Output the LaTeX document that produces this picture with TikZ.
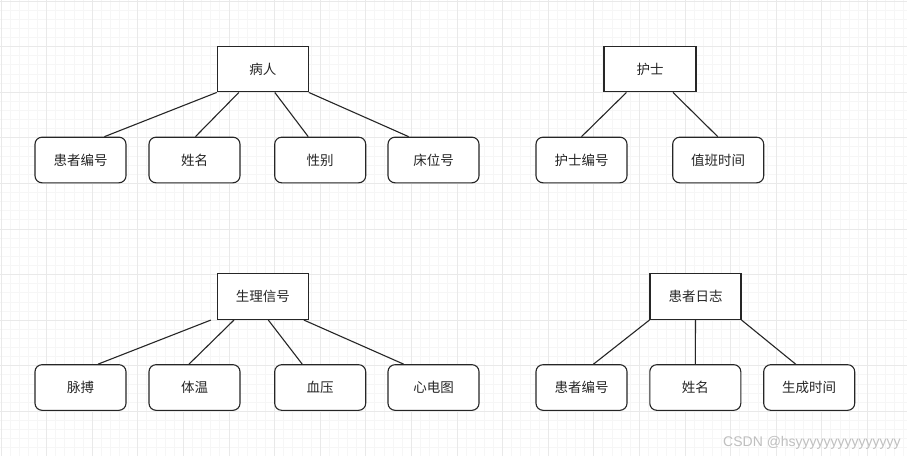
\documentclass[tikz,border=0pt]{standalone}
\usepackage{fontspec}
\setmainfont{Noto Sans CJK SC}
\newfontfamily\wmfont{Liberation Sans}
\usetikzlibrary{calc}
\begin{document}
\begin{tikzpicture}[x=1pt,y=-1pt,
  minorline/.style={draw=gray!7, line width=0.9pt},
  majorline/.style={draw=gray!17, line width=1pt},
  entity/.style={draw=black!85, line width=1.1pt, fill=white, minimum width=91pt, minimum height=45.6pt, inner sep=0pt, font=\fontsize{13.5}{16}\selectfont, text=black!85},
  attr/.style={entity, rounded corners=7pt},
  link/.style={draw=black!85, line width=1.1pt}]
\useasboundingbox (0,0) rectangle (907,456);
\fill[white] (0,0) rectangle (907,456);
% grid
\foreach \i in {0,...,99} {\draw[minorline] ({1+\i*9.12},0) -- ({1+\i*9.12},456);}
\foreach \i in {0,...,49} {\draw[minorline] (0,{1+\i*9.12}) -- (907,{1+\i*9.12});}
\foreach \i in {0,...,19} {\draw[majorline] ({1+\i*45.6},0) -- ({1+\i*45.6},456);}
\foreach \i in {0,...,9} {\draw[majorline] (0,{1+\i*45.6}) -- (907,{1+\i*45.6});}

% entities
\node[entity] (bingren) at (262.8,69.1) {病人};
\node[entity, minimum width=92pt] (hushi) at (650,69.1) {护士};
\node[entity] (shengli) at (262.8,296.7) {生理信号};
\node[entity] (rizhi) at (695.5,296.7) {患者日志};

% attributes top
\node[attr] (a1) at (80.5,160) {患者编号};
\node[attr] (a2) at (194.5,160) {姓名};
\node[attr] (a3) at (320.2,160) {性别};
\node[attr] (a4) at (433.5,160) {床位号};
\node[attr] (a5) at (581.5,160) {护士编号};
\node[attr] (a6) at (718.2,160) {值班时间};

% attributes bottom
\node[attr] (b1) at (80.5,387.5) {脉搏};
\node[attr] (b2) at (194.5,387.5) {体温};
\node[attr] (b3) at (320.2,387.5) {血压};
\node[attr] (b4) at (433.5,387.5) {心电图};
\node[attr] (c1) at (581.5,387.5) {患者编号};
\node[attr] (c2) at (695.3,387.5) {姓名};
\node[attr] (c3) at (809.2,387.5) {生成时间};

% links
\draw[link] (bingren.south west) -- ($(a1.north west)!0.76!(a1.north east)$);
\draw[link] ($(bingren.south west)!0.24!(bingren.south east)$) -- ($(a2.north west)!0.51!(a2.north east)$);
\draw[link] ($(bingren.south west)!0.63!(bingren.south east)$) -- ($(a3.north west)!0.37!(a3.north east)$);
\draw[link] (bingren.south east) -- ($(a4.north west)!0.23!(a4.north east)$);

\draw[link] ($(hushi.south west)!0.247!(hushi.south east)$) -- ($(a5.north west)!0.5!(a5.north east)$);
\draw[link] ($(hushi.south west)!0.747!(hushi.south east)$) -- ($(a6.north west)!0.495!(a6.north east)$);

\draw[link] ($(shengli.south west)!-0.064!(shengli.south east)$) -- ($(b1.north west)!0.69!(b1.north east)$);
\draw[link] ($(shengli.south west)!0.187!(shengli.south east)$) -- ($(b2.north west)!0.44!(b2.north east)$);
\draw[link] ($(shengli.south west)!0.56!(shengli.south east)$) -- ($(b3.north west)!0.305!(b3.north east)$);
\draw[link] ($(shengli.south west)!0.946!(shengli.south east)$) -- ($(b4.north west)!0.176!(b4.north east)$);

\draw[link] (rizhi.south west) -- ($(c1.north west)!0.63!(c1.north east)$);
\draw[link] (rizhi.south) -- (c2.north);
\draw[link] (rizhi.south east) -- ($(c3.north west)!0.353!(c3.north east)$);

% watermark
\node[anchor=base west, inner sep=0pt, font=\wmfont\fontsize{14}{14}\selectfont, text=gray!50] (wm) at (723,446) {CSDN @hsyyyyyyyyyyyyyyy};
\end{tikzpicture}
\end{document}
